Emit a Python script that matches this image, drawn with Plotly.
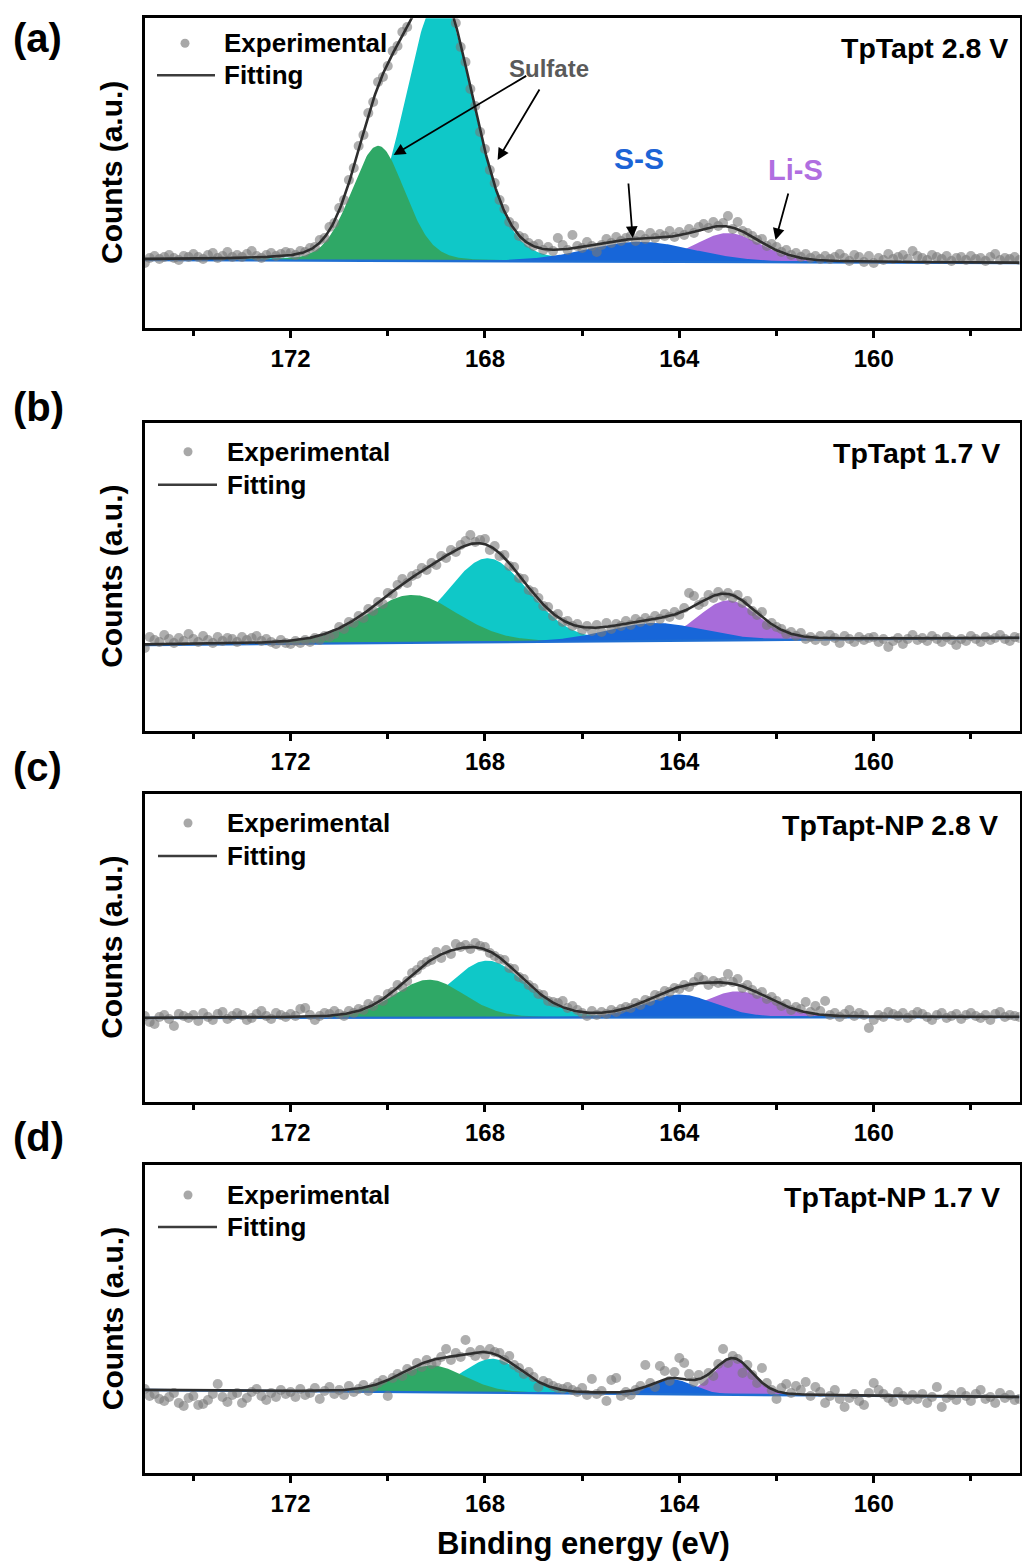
import numpy as np
import plotly.graph_objects as go

W, H = 1022, 1562
FONT = "Arial, Liberation Sans, sans-serif"

# Binding-energy grid of the S 2p scans (eV), high to low, 0.1 eV step
energy = np.round(np.arange(175.0, 156.95, -0.1), 1)

# Measured S 2p intensity (a.u., relative to the background level at 175 eV)
exp_a = [
    -3, 2, 4, 1, 3, 5, 2, 0, 4, 3,
    6, 3, 1, 5, 7, 2, 4, 8, 3, 5,
    3, 6, 9, 4, 2, 5, 7, 4, 6, 8,
    7, 5, 9, 8, 12, 13, 20, 22, 33, 37,
    52, 60, 80, 92, 114, 125, 147, 158, 178, 183,
    194, 209, 214, 228, 233, 247, 252, 265, 268, 275,
    274, 270, 266, 249, 237, 213, 198, 171, 154, 128,
    111, 90, 77, 60, 51, 38, 34, 24, 22, 17,
    14, 16, 10, 13, 9, 22, 15, 10, 25, 14,
    12, 18, 14, 8, 15, 21, 17, 23, 19, 22,
    24, 19, 25, 21, 27, 22, 26, 24, 29, 23,
    28, 25, 31, 27, 33, 36, 32, 38, 34, 37,
    44, 31, 38, 29, 27, 24, 20, 21, 14, 16,
    13, 8, 10, 5, 7, 3, 6, 2, 4, 1,
    4, 1, 3, 6, 2, -1, 5, 3, -2, 4,
    -3, 2, 0, 6, 1, 3, 5, 1, 9, 4,
    2, 0, 5, 3, 1, 4, -1, 2, 3, 0,
    4, 1, 2, -1, 3, 6, 0, 2, 1, 3,
    0,
]
exp_b = [
    -3, 8, 5, 3, 10, 6, 2, 7, 4, 11,
    6, 3, 9, 5, 2, 8, 4, 7, 6, 3,
    8, 5, 7, 9, 4, 6, 3, 1, 5, 2,
    1, 4, 2, 5, 3, 7, 5, 9, 8, 11,
    18, 16, 23, 22, 29, 27, 36, 34, 43, 41,
    52, 51, 60, 66, 62, 69, 71, 77, 75, 82,
    80, 89, 87, 95, 93, 100, 104, 110, 103, 105,
    106, 95, 99, 89, 90, 79, 78, 67, 66, 55,
    53, 47, 39, 38, 29, 31, 23, 24, 19, 21,
    15, 19, 14, 20, 13, 22, 16, 21, 19, 24,
    20, 26, 23, 27, 24, 29, 26, 31, 28, 33,
    30, 37, 52, 49, 40, 43, 50, 47, 53, 49,
    52, 47, 50, 42, 44, 34, 30, 33, 20, 22,
    18, 16, 11, 13, 9, 12, 6, 8, 5, 9,
    4, 10, 7, 2, 9, 6, 3, 8, 5, 7,
    8, 3, 6, -2, 4, 7, 1, 6, 10, 5,
    7, 4, 9, 6, 3, 8, 5, 0, 6, 4,
    9, 6, 3, 8, 5, 7, 10, 6, 4, 8,
    7,
]
exp_c = [
    2, -4, -6, 1, 3, -1, -8, 4, 2, 0,
    3, -3, 5, 1, -2, 4, 6, -1, 2, 5,
    3, -2, 0, 4, 7, 2, -1, 5, 3, 1,
    4, 2, 9, 10, 3, -2, 2, 5, 4, 7,
    4, 2, 7, 5, 9, 8, 14, 12, 18, 17,
    24, 26, 33, 31, 37, 45, 48, 53, 56, 58,
    66, 60, 68, 64, 74, 71, 73, 69, 75, 72,
    71, 65, 62, 59, 58, 50, 49, 41, 39, 33,
    30, 24, 23, 17, 16, 15, 17, 10, 12, 8,
    5, 2, 7, 3, 6, 4, 8, 6, 9, 11,
    10, 15, 13, 18, 17, 23, 22, 27, 26, 30,
    29, 33, 31, 36, 41, 38, 33, 37, 35, 36,
    44, 36, 39, 30, 33, 28, 24, 26, 19, 21,
    17, 12, 14, 8, 11, 9, 16, 6, 12, 7,
    17, 3, 5, 1, 4, 8, 2, 5, 3, -10,
    -2, 3, 1, 6, 4, 2, 5, 0, 3, 6,
    4, 1, -2, 3, 5, 0, 2, 4, -1, 3,
    5, 2, 0, 3, -2, 4, 6, 1, 3, 2,
    1,
]
exp_d = [
    1, -6, -4, -9, -11, -7, -3, -13, -16, -8,
    -6, -15, -14, -10, -4, 6, -7, -12, -5, -3,
    -13, -8, -2, 1, -6, -10, -3, -7, 0, -4,
    -2, -7, 1, -5, -3, 2, -9, -1, 3, -4,
    0, -5, 4, -2, 1, 5, -1, 3, 7, 10,
    -6, 12, 16, 14, 21, 19, 27, 23, 30, 26,
    28, 33, 41, 30, 37, 33, 50, 38, 34, 40,
    35, 41, 38, 37, 30, 34, 25, 22, 16, 18,
    13, 3, 9, 7, 4, 2, 1, 3, 0, -2,
    2, -5, 11, -4, -1, -11, 10, 12, -6, -2,
    -5, 0, 4, 25, 7, 3, 24, 19, 9, 18,
    32, 27, 16, 8, 15, 9, 17, 14, 26, 41,
    27, 34, 31, 17, 25, 15, 7, 22, 7, 0,
    -9, 2, 6, -3, 4, 0, 8, -6, 3, -2,
    -13, -6, 0, -9, -17, -8, -4, -11, -15, -3,
    7, 0, -4, -8, -12, -2, -6, -10, -5, -9,
    -4, -13, -7, 3, -17, -8, -5, -10, -2, -6,
    -11, -4, 0, -9, -7, -13, -3, -8, -5, -10,
    -9,
]

# Fitted components, in the order [sulfate (high BE), sulfate, Li-S, S-S]
center_a = [168.95, 170.2, 163.0, 164.8]
height_a = [263, 115, 29, 20]
fwhm_a = [1.67, 1.30, 1.6, 2.6]
bg_a = [0, -3]            # linear background at 175 eV and at 157 eV

center_b = [167.95, 169.5, 163.0, 164.5]
height_b = [84, 48, 40, 18]
fwhm_b = [2.0, 2.2, 1.45, 2.3]
bg_b = [0, 7]

center_c = [167.95, 169.15, 162.8, 164.0]
height_c = [57, 38, 26, 23]
fwhm_c = [1.85, 1.7, 1.7, 1.7]
bg_c = [0, 1]

center_d = [167.85, 169.1, 162.9, 164.15]
height_d = [34, 27, 36, 15]
fwhm_d = [1.45, 1.6, 0.95, 1.0]
bg_d = [0, -7]

LORENTZ_FRACTION = 0.15

sample_labels = ["TpTapt 2.8 V", "TpTapt 1.7 V", "TpTapt-NP 2.8 V", "TpTapt-NP 1.7 V"]
panel_letters = ["(a)", "(b)", "(c)", "(d)"]
major_ticks = [172, 168, 164, 160]
minor_ticks = [174, 170, 166, 162, 158]

comp_colors = ["#0FC8C8", "#2FA866", "#A86CDA", "#1766D9"]
BASE_COLOR = "#1F6ED2"
FIT_COLOR = "#2E2E2E"
DOT_COLOR = "rgba(120,120,120,0.6)"

# Page geometry of the four stacked frames (pixels from the top-left corner)
X_LEFT, X_RIGHT = 144.8, 1019.5
frames = [(18.3, 327.7, 260.0), (422.7, 731.0, 645.0), (794.0, 1101.7, 1018.0), (1165.0, 1473.3, 1390.0)]


def pv(e, c, h, f, eta=LORENTZ_FRACTION):
    u = (e - c) / f
    return h * ((1 - eta) * np.exp(-4 * np.log(2) * u ** 2) + eta / (1 + 4 * u ** 2))


def background(e, bg):
    return bg[0] + (bg[1] - bg[0]) * (175.0 - e) / 18.0


def fx(px):
    return px / W


def fy(py):
    return 1 - py / H


panels = [
    (exp_a, center_a, height_a, fwhm_a, bg_a),
    (exp_b, center_b, height_b, fwhm_b, bg_b),
    (exp_c, center_c, height_c, fwhm_c, bg_c),
    (exp_d, center_d, height_d, fwhm_d, bg_d),
]

fine = np.linspace(175.0, 157.0, 901)
fig = go.Figure()
layout = {}
annotations = []
shapes = []

for i, (expv, cen, hgt, fw, bg) in enumerate(panels):
    s = "" if i == 0 else str(i + 1)
    xa, ya = "x" + s, "y" + s
    base = background(fine, bg)
    total = base.copy()
    comps = []
    for c, h, f in zip(cen, hgt, fw):
        comp = pv(fine, c, h, f)
        comps.append(comp)
        total = total + comp
    # component areas: sulfate pair, then Li-S with S-S over it
    for k in [0, 1, 2, 3]:
        fig.add_trace(go.Scatter(
            x=np.concatenate([fine, fine[::-1]]),
            y=np.concatenate([base + comps[k], base[::-1]]),
            fill="toself", fillcolor=comp_colors[k], mode="lines",
            line=dict(width=0, color=comp_colors[k]),
            xaxis=xa, yaxis=ya, showlegend=False, hoverinfo="skip"))
    fig.add_trace(go.Scatter(x=fine, y=base, mode="lines",
                             line=dict(color=BASE_COLOR, width=2.4),
                             xaxis=xa, yaxis=ya, showlegend=False))
    fig.add_trace(go.Scatter(x=energy, y=expv, mode="markers",
                             marker=dict(size=10, color=DOT_COLOR, line=dict(width=0)),
                             xaxis=xa, yaxis=ya, showlegend=False))
    fig.add_trace(go.Scatter(x=fine, y=total, mode="lines",
                             line=dict(color=FIT_COLOR, width=2.6),
                             xaxis=xa, yaxis=ya, showlegend=False))

    top, bottom, zero = frames[i]
    layout["xaxis" + s] = dict(
        domain=[fx(X_LEFT), fx(X_RIGHT)], anchor=ya, range=[175, 157],
        tickmode="array", tickvals=major_ticks, ticktext=[str(t) for t in major_ticks],
        ticks="outside", ticklen=7, tickwidth=2.5, tickcolor="black",
        minor=dict(tickmode="array", tickvals=minor_ticks, ticks="outside",
                   ticklen=5, tickwidth=2.5, tickcolor="black", showgrid=False),
        showline=True, linewidth=3, linecolor="black", mirror=True,
        showgrid=False, zeroline=False,
        tickfont=dict(family=FONT, size=24, color="black", weight="bold"))
    layout["yaxis" + s] = dict(
        domain=[fy(bottom), fy(top)], anchor=xa,
        range=[zero - bottom, zero - top],
        showticklabels=False, ticks="", showline=True, linewidth=3,
        linecolor="black", mirror=True, showgrid=False, zeroline=False)

    # y-axis caption
    annotations.append(dict(x=fx(112), y=fy((top + bottom) / 2), xref="paper", yref="paper",
                            text="Counts (a.u.)", textangle=-90, showarrow=False,
                            font=dict(family=FONT, size=30, color="black", weight="bold"),
                            xanchor="center", yanchor="middle"))
    # panel letter
    letter_y = [38, 407, 767, 1137][i]
    annotations.append(dict(x=fx(11), y=fy(letter_y), xref="paper", yref="paper",
                            text=panel_letters[i], showarrow=False, xanchor="left", yanchor="middle",
                            font=dict(family=FONT, size=40, color="black", weight="bold")))
    # sample label
    sx = [1010, 1002, 1000, 1002][i]
    sy = [48, 453, 825, 1197][i]
    annotations.append(dict(x=fx(sx), y=fy(sy), xref="paper", yref="paper",
                            text=sample_labels[i], showarrow=False, xanchor="right", yanchor="middle",
                            font=dict(family=FONT, size=28.5, color="black", weight="bold")))
    # legend block
    dot_x = [185, 188, 188, 188][i]
    dot_y = top + [25, 29, 29, 30][i]
    line_y = top + [57, 62, 62, 62][i]
    lx0, lx1 = [(157, 215), (158, 217), (158, 217), (158, 217)][i]
    text_x = [222, 225, 225, 225][i]
    shapes.append(dict(type="circle", xref="paper", yref="paper",
                       x0=fx(dot_x - 4.5), x1=fx(dot_x + 4.5), y0=fy(dot_y + 4.5), y1=fy(dot_y - 4.5),
                       fillcolor="#A8A8A8", line=dict(width=0)))
    shapes.append(dict(type="line", xref="paper", yref="paper",
                       x0=fx(lx0), x1=fx(lx1), y0=fy(line_y), y1=fy(line_y),
                       line=dict(color="#3C3C3C", width=2.6)))
    annotations.append(dict(x=fx(text_x), y=fy(dot_y), xref="paper", yref="paper",
                            text="Experimental", showarrow=False, xanchor="left", yanchor="middle",
                            font=dict(family=FONT, size=26, color="black", weight="bold")))
    annotations.append(dict(x=fx(text_x), y=fy(line_y), xref="paper", yref="paper",
                            text="Fitting", showarrow=False, xanchor="left", yanchor="middle",
                            font=dict(family=FONT, size=26, color="black", weight="bold")))

# Peak assignments in panel (a)
arrow_style = dict(xref="x", yref="y", axref="x", ayref="y", showarrow=True,
                   arrowhead=2, arrowsize=1.3, arrowwidth=1.8, arrowcolor="black", text="")
annotations.append(dict(x=169.88, y=105, ax=167.12, ay=185, **arrow_style))
annotations.append(dict(x=167.74, y=100, ax=166.86, ay=172, **arrow_style))
annotations.append(dict(x=164.96, y=22, ax=165.05, ay=78, **arrow_style))
annotations.append(dict(x=162.02, y=20, ax=161.75, ay=68, **arrow_style))
annotations.append(dict(x=166.69, y=192, xref="x", yref="y", text="Sulfate", showarrow=False,
                        font=dict(family=FONT, size=24, color="#5A5A5A", weight="bold")))
annotations.append(dict(x=164.84, y=102, xref="x", yref="y", text="S-S", showarrow=False,
                        font=dict(family=FONT, size=30, color="#1C64D6", weight="bold")))
annotations.append(dict(x=161.61, y=90, xref="x", yref="y", text="Li-S", showarrow=False,
                        font=dict(family=FONT, size=29, color="#B06EE0", weight="bold")))

# x-axis caption
annotations.append(dict(x=fx(583), y=fy(1543), xref="paper", yref="paper",
                        text="Binding energy (eV)", showarrow=False, xanchor="center", yanchor="middle",
                        font=dict(family=FONT, size=31, color="black", weight="bold")))

fig.update_layout(
    width=W, height=H, margin=dict(l=0, r=0, t=0, b=0),
    paper_bgcolor="white", plot_bgcolor="white", showlegend=False,
    annotations=annotations, shapes=shapes, **layout)

fig.write_html("out.html")
